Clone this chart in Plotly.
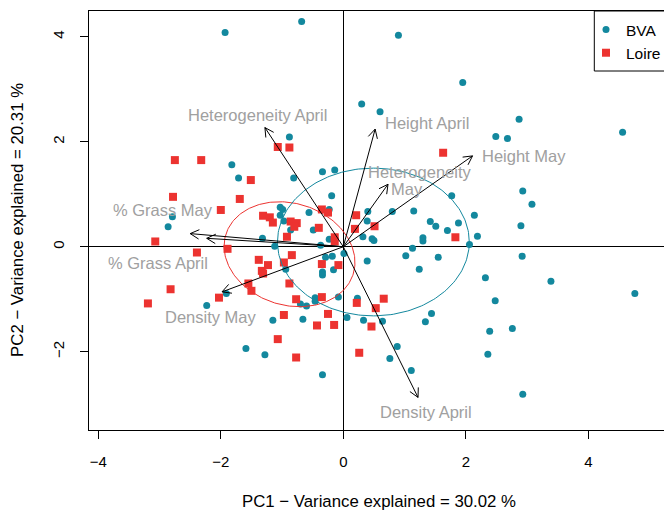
import numpy as np
import plotly.graph_objects as go

# ---------------- data ----------------
bva_x = [-1.93, -0.68, 0.90, 1.95, 0.30, 0.60, 2.87, 2.49, 2.68, 4.56,
         -0.88, -1.82, -1.71, -0.81, -0.34, -0.14, -0.19, 2.93, 3.08, 1.77,
         -1.03, -0.99, -0.56, -0.23, -1.03, -0.97, -2.79, -2.86, -0.86, -0.49,
         -1.32, -0.23, -0.37, -1.12, 2.14, 2.90, 2.19, 2.06, 1.88, 1.70,
         1.51, 1.42, 1.30, 1.30, 1.15, 0.80, 0.40, 0.39, 0.32, 0.47,
         0.50, 1.13, 2.92, 1.02, 1.55, 0.39, 2.32, 3.39, 4.76, 2.48,
         1.24, 0.01, 1.44, 1.34, 2.39, 2.76, 2.36, 2.93, 0.23, 0.06,
         0.33, 0.64, 0.88, 0.76, 1.11, -0.08, -2.23, -1.91, -1.15, -0.66,
         -1.59, -1.28, -0.34, -0.70, -0.60, -0.46, -0.46, -0.34, -0.34, -0.16,
         -0.29, -0.18, -0.94]
bva_y = [4.08, 4.29, 4.03, 3.13, 2.72, 2.57, 2.43, 2.10, 2.06, 2.18,
         2.09, 1.56, 1.31, 1.31, 1.43, 1.46, 0.97, 1.06, 0.81, 0.97,
         0.75, 0.71, 0.65, 0.71, 0.60, 0.49, 0.57, 0.38, 0.32, 0.32,
         0.16, 0.14, 0.03, 0.01, 0.60, 0.40, 0.20, 0.04, 0.45, 0.31,
         0.39, 0.48, 0.17, 0.11, 0.68, 0.67, 0.67, 0.49, 0.19, 0.15,
         0.12, -0.03, -0.18, -0.17, -0.20, -0.27, -0.59, -0.66, -0.89, -1.03,
         -0.43, -0.13, -1.27, -1.43, -1.61, -1.56, -2.05, -2.81, -0.98, -1.35,
         -1.40, -1.42, -1.90, -2.13, -2.36, -0.96, -1.12, -0.89, -1.40, -1.38,
         -1.94, -2.06, -2.44, -1.09, -1.13, -0.97, -1.04, -0.48, -0.54, -0.44,
         -0.20, -0.18, -0.43]

loire_x = [-1.07, -0.88, -2.75, -2.32, -1.51, -2.78, -1.69, -2.00, -1.31, -1.20,
           -1.15, -0.86, -0.76, -0.80, -0.35, -0.25, -0.40, -0.92, -0.14, -0.14,
           0.21, 0.19, -3.07, -1.89, -2.39, -0.84, 1.63, 0.51, 1.83, -1.38,
           -1.23, -1.33, -1.31, -0.97, -0.35, -0.08, -0.88, -1.55, -1.50, -2.82,
           -3.19, -2.03, -0.77, -0.35, -0.97, -0.25, -0.43, -0.15, 0.22, -1.07,
           -0.77, 0.26, 0.46, 0.53, 0.66]
loire_y = [1.90, 1.89, 1.65, 1.65, 1.27, 0.95, 0.91, 0.70, 0.59, 0.56,
           0.46, 0.48, 0.45, 0.38, 0.71, 0.65, 0.36, 0.19, 0.18, 0.10,
           0.60, 0.34, 0.10, -0.04, -0.11, -0.16, 1.79, 0.39, 0.18, -0.25,
           -0.35, -0.46, -0.51, -0.30, -0.33, -0.35, -0.70, -0.70, -0.84, -0.81,
           -1.08, -0.97, -1.00, -0.96, -1.30, -1.28, -1.50, -1.49, -1.07, -1.76,
           -2.11, -2.02, -1.52, -1.17, -0.99]

# variable loadings (arrow tips)
var_names = ["Heterogeneity April", "Height April", "Height May", "Heterogeneity May",
             "% Grass May", "% Grass April", "Density May", "Density April"]
load_x = [-1.28, 0.52, 2.11, 0.73, -2.50, -2.23, -1.98, 1.22]
load_y = [2.27, 2.24, 1.73, 1.19, 0.25, 0.16, -0.86, -2.87]

# arrow label texts and positions
label_text = ["Heterogeneity April", "Height April", "Height May", "Heterogeneity", "May",
              "% Grass May", "% Grass April", "Density May", "Density April"]
label_x = [-1.398, 1.371, 2.955, 1.236, 1.035, -2.939, -3.020, -2.165, 1.350]
label_y = [2.509, 2.350, 1.728, 1.417, 1.093, 0.699, -0.305, -1.345, -3.143]

# group ellipses: centre, semi-axes (x-units), rotation (deg, screen)
ell_group = ["Loire", "BVA"]
ell_cx = [-0.878, 0.491]
ell_cy = [-0.143, 0.090]
ell_a = [1.089, 1.566]
ell_b = [0.831, 1.206]
ell_ang = [-17.3, 0.0]

x_ticks = [-4, -2, 0, 2, 4]
y_ticks = [-2, 0, 2, 4]

# ---------------- style ----------------
TEAL = "#13889e"
RED = "#ec3330"
GRAY = "#a0a0a0"
FONT = "Liberation Sans, Arial, sans-serif"

W, H = 664, 511
ML, MR, MT, MB = 89, 0, 11, 81
XR = [-4.152, 5.236]
YR = [-3.491, 4.490]
pw, ph = W - ML - MR, H - MT - MB
sx = pw / (XR[1] - XR[0])   # px per x unit
sy = ph / (YR[1] - YR[0])   # px per y unit

fig = go.Figure()

fig.add_trace(go.Scatter(x=bva_x, y=bva_y, mode="markers", name="BVA",
                         marker=dict(symbol="circle", size=7, color=TEAL, line=dict(width=0)),
                         hoverinfo="skip"))
fig.add_trace(go.Scatter(x=loire_x, y=loire_y, mode="markers", name="Loire",
                         marker=dict(symbol="square", size=8, color=RED, line=dict(width=0)),
                         hoverinfo="skip"))

# ellipses
t = np.linspace(0, 2 * np.pi, 241)
ell_col = {"Loire": RED, "BVA": TEAL}
for g, cx, cy, a, b, ang in zip(ell_group, ell_cx, ell_cy, ell_a, ell_b, ell_ang):
    th = np.deg2rad(ang)
    ox = a * np.cos(t) * np.cos(th) - b * np.sin(t) * np.sin(th)
    oy = a * np.cos(t) * np.sin(th) + b * np.sin(t) * np.cos(th)
    fig.add_trace(go.Scatter(x=cx + ox, y=cy + oy * sx / sy, mode="lines",
                             line=dict(color=ell_col[g], width=1),
                             showlegend=False, hoverinfo="skip"))

# arrows (shaft + open head)
ax_, ay_ = [], []
L, ANG = 10.0, np.deg2rad(28)
for tx, ty in zip(load_x, load_y):
    ax_ += [0, tx, None]
    ay_ += [0, ty, None]
    dx, dy = tx * sx, ty * sy
    n = np.hypot(dx, dy)
    ux, uy = dx / n, dy / n
    for s in (1, -1):
        c, si = np.cos(s * ANG), np.sin(s * ANG)
        rx, ry = ux * c - uy * si, ux * si + uy * c
        ax_ += [tx - L * rx / sx, tx, None]
        ay_ += [ty - L * ry / sy, ty, None]
fig.add_trace(go.Scatter(x=ax_, y=ay_, mode="lines", line=dict(color="black", width=1),
                         showlegend=False, hoverinfo="skip"))

annotations = []
for txt, lx, ly in zip(label_text, label_x, label_y):
    annotations.append(dict(x=lx, y=ly, xref="x", yref="y", text=txt, showarrow=False,
                            font=dict(family=FONT, size=16.5, color=GRAY),
                            xanchor="center", yanchor="middle"))

annotations.append(dict(x=(379.2 - ML) / pw, y=-(501.7 - (MT + ph)) / ph, xref="paper", yref="paper",
                        text="PC1 \u2212 Variance explained = 30.02 %", showarrow=False,
                        font=dict(family=FONT, size=16.8, color="black"),
                        xanchor="center", yanchor="middle"))
annotations.append(dict(x=(17.5 - ML) / pw, y=((MT + ph) - 220.4) / ph, xref="paper", yref="paper",
                        text="PC2 \u2212 Variance explained = 20.31 %", showarrow=False, textangle=-90,
                        font=dict(family=FONT, size=16.8, color="black"),
                        xanchor="center", yanchor="middle"))

shapes = [dict(type="rect", xref="paper", yref="paper",
               x0=(594.3 - ML) / pw, x1=1.06, y0=((MT + ph) - 71) / ph, y1=1.0,
               line=dict(color="black", width=1), fillcolor="white", layer="above")]

fig.update_layout(
    width=W, height=H, autosize=False,
    margin=dict(l=ML, r=MR, t=MT, b=MB, pad=0, autoexpand=False),
    plot_bgcolor="white", paper_bgcolor="white",
    font=dict(family=FONT, size=15, color="black"),
    showlegend=True,
    legend=dict(x=(586 - ML) / pw, y=1.0 - 2.0 / ph, xanchor="left", yanchor="top",
                bgcolor="rgba(0,0,0,0)", borderwidth=0,
                font=dict(family=FONT, size=15.5, color="black"),
                tracegroupgap=0),
    annotations=annotations,
    shapes=shapes,
)
fig.update_xaxes(range=XR, tickvals=x_ticks, ticktext=[("\u2212%d" % -v) if v < 0 else str(v) for v in x_ticks],
                 showgrid=False, zeroline=True, zerolinecolor="black", zerolinewidth=1,
                 showline=True, linecolor="black", linewidth=1, mirror=True,
                 ticks="outside", ticklen=8, tickwidth=1, tickcolor="black",
                 ticklabelstandoff=10, tickfont=dict(family=FONT, size=15, color="black"))
fig.update_yaxes(range=YR, tickvals=y_ticks, ticktext=[("\u2212%d" % -v) if v < 0 else str(v) for v in y_ticks],
                 showgrid=False, zeroline=True, zerolinecolor="black", zerolinewidth=1,
                 showline=True, linecolor="black", linewidth=1, mirror=False,
                 ticks="outside", ticklen=8, tickwidth=1, tickcolor="black", tickangle=-90,
                 ticklabelstandoff=10, tickfont=dict(family=FONT, size=15, color="black"))

fig.write_html("out.html",
               config={"displayModeBar": False, "responsive": False},
               post_script="document.documentElement.style.overflow='hidden';"
                           "document.body.style.margin='0px';document.body.style.overflow='hidden';")
